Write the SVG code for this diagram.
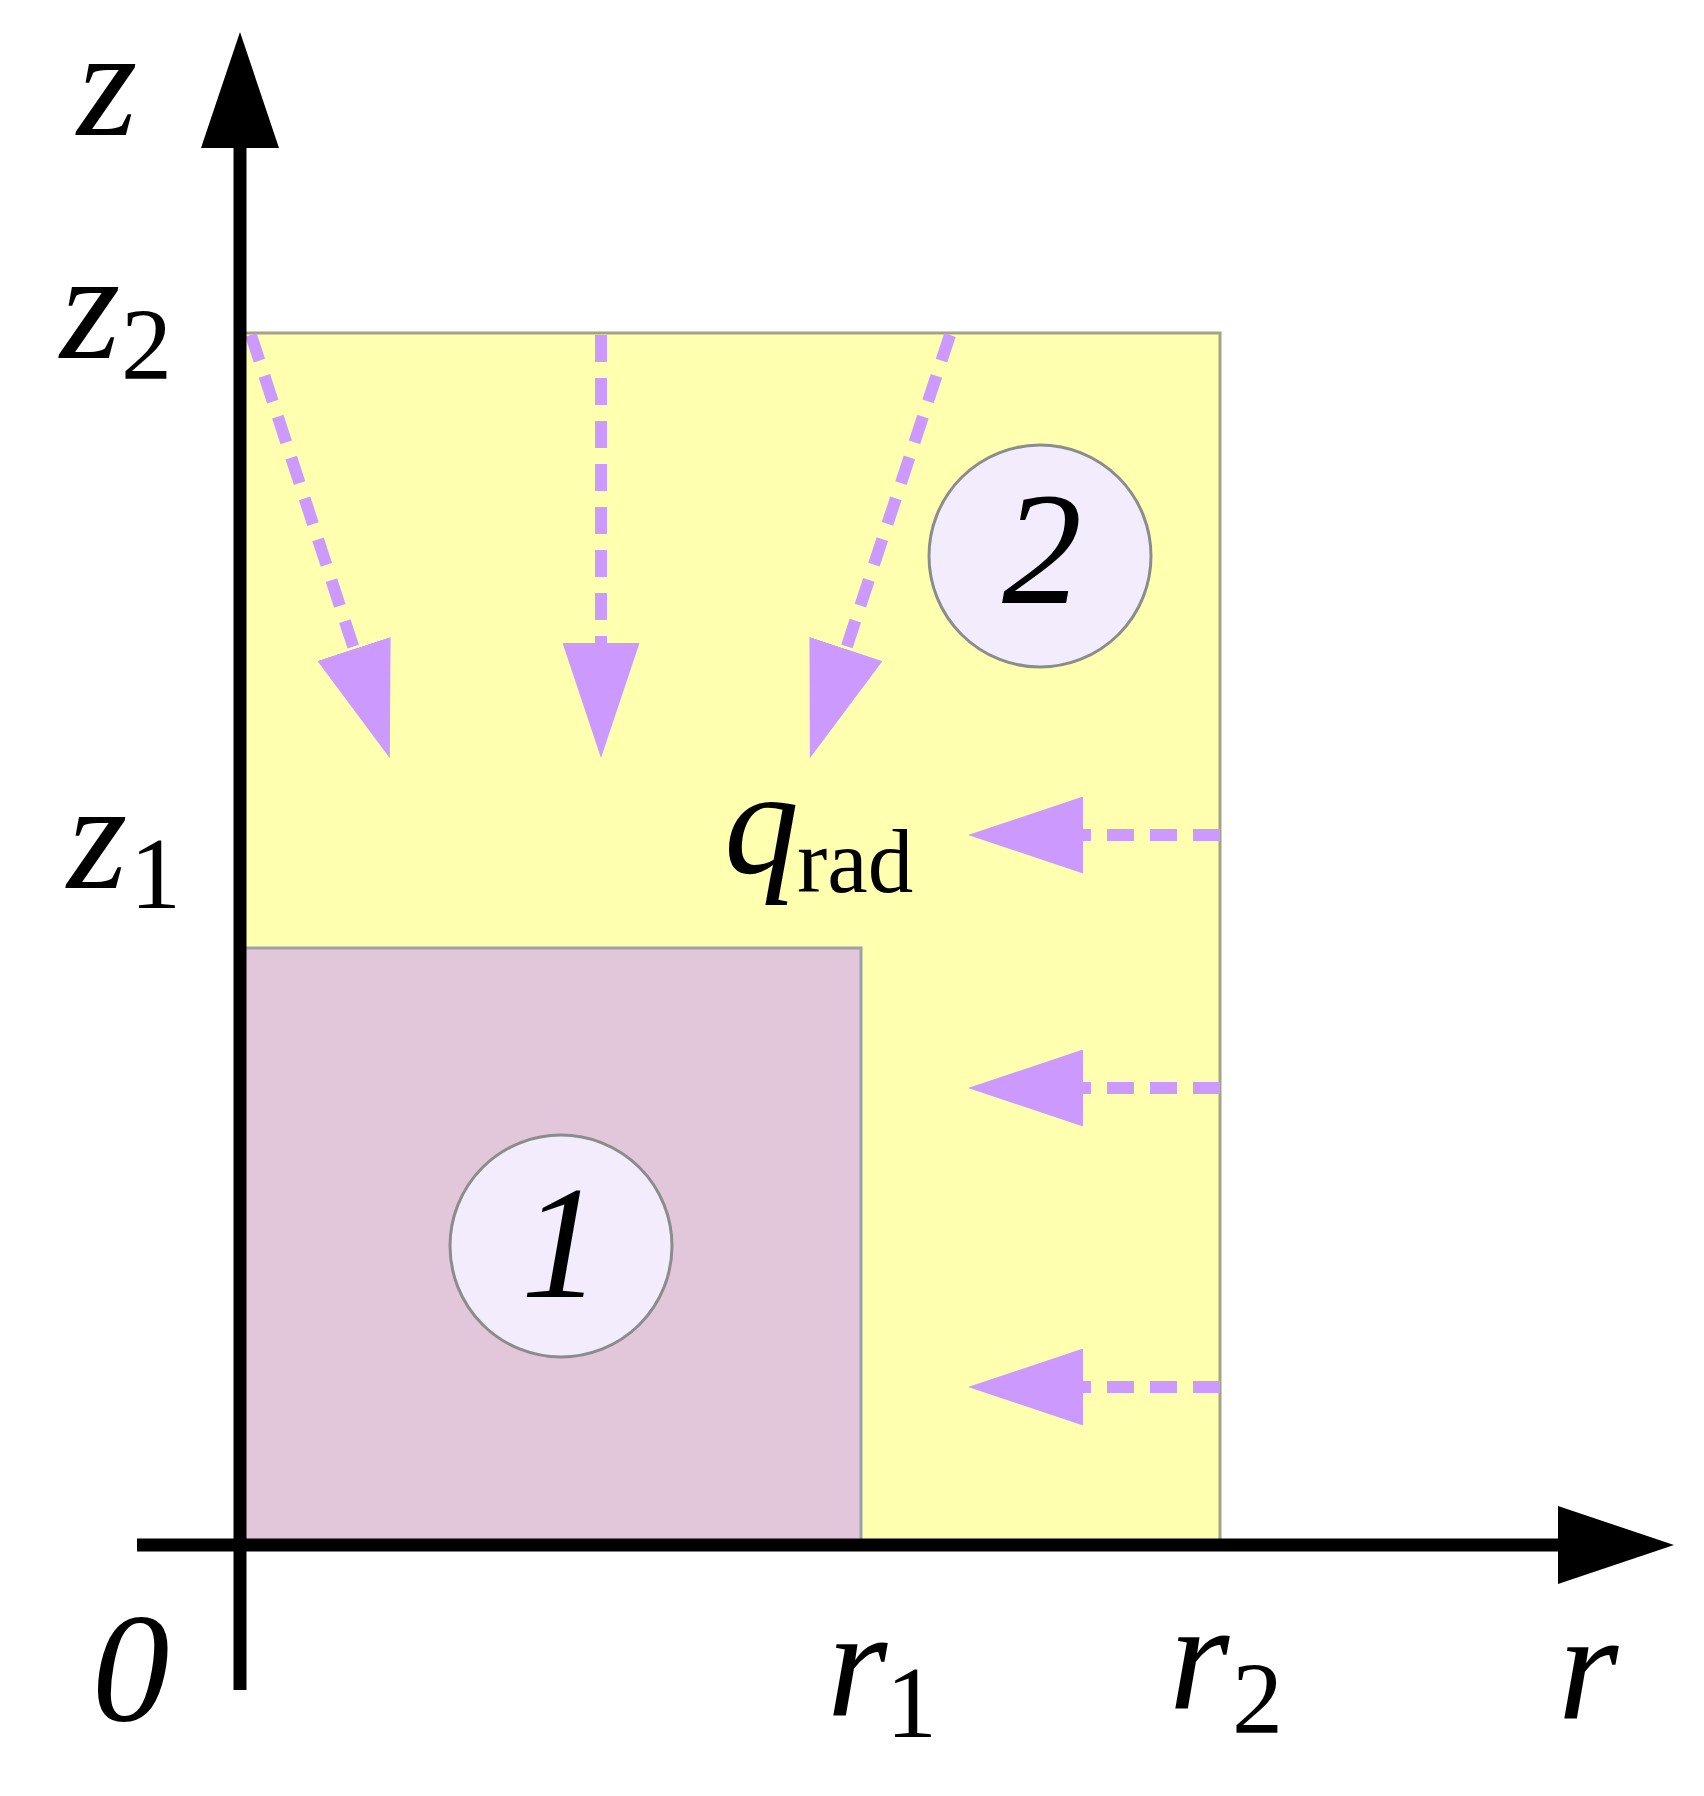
<svg xmlns="http://www.w3.org/2000/svg" width="1704" height="1796" viewBox="0 0 1704 1796">
<style>
  .lbl { font-family: "Liberation Serif", "Times New Roman", serif; fill: #000; }
  .it { font-style: italic; font-size: 155px; }
  .sub { font-size: 102px; }
  .num { font-style: italic; font-size: 160px; text-anchor: middle; }
  .axis { stroke: #000; stroke-width: 13; fill: none; }
  .flux { stroke: #CC99FF; stroke-width: 12; fill: none; stroke-dasharray: 27 16; }
  .badge { fill: #F3ECFD; stroke: #8C8C8C; stroke-width: 3; }
</style>
<defs>
  <marker id="ah-black" markerUnits="userSpaceOnUse" markerWidth="116" markerHeight="78" refX="0" refY="39" orient="auto">
    <path d="M0,0 L116,39 L0,78 Z" fill="#000"/>
  </marker>
  <marker id="ah-flux" markerUnits="userSpaceOnUse" markerWidth="115" markerHeight="77" refX="0" refY="38.5" orient="auto">
    <path d="M0,0 L115,38.5 L0,77 Z" fill="#CC99FF"/>
  </marker>
</defs>
<rect width="1704" height="1796" fill="#fff"/>

<g id="region2">
  <rect x="240" y="333" width="980" height="1212" fill="#FFFFB0" stroke="#A3A385" stroke-width="3"/>
</g>
<g id="region1">
  <rect x="240" y="948" width="621" height="597" fill="#E2C7DA" stroke="#9CA2AA" stroke-width="3"/>
</g>

<g id="connectors">
  <line class="flux" x1="251" y1="335" x2="354" y2="649" marker-end="url(#ah-flux)"/>
  <line class="flux" x1="601" y1="335" x2="601" y2="643" marker-end="url(#ah-flux)"/>
  <line class="flux" x1="950" y1="335" x2="846" y2="649" marker-end="url(#ah-flux)"/>
  <line class="flux" x1="1220" y1="835" x2="1083" y2="835" marker-end="url(#ah-flux)"/>
  <line class="flux" x1="1220" y1="1088" x2="1083" y2="1088" marker-end="url(#ah-flux)"/>
  <line class="flux" x1="1220" y1="1387" x2="1083" y2="1387" marker-end="url(#ah-flux)"/>
</g>

<g id="axes">
  <line class="axis" x1="240" y1="1690" x2="240" y2="148" marker-end="url(#ah-black)"/>
  <line class="axis" x1="137" y1="1545" x2="1558" y2="1545" marker-end="url(#ah-black)"/>
</g>

<g id="badge2">
  <circle class="badge" cx="1040" cy="556" r="111"/>
  <text class="lbl num" x="1042" y="603">2</text>
</g>
<g id="badge1">
  <circle class="badge" cx="561" cy="1246" r="111"/>
  <text class="lbl num" x="561" y="1297">1</text>
</g>

<g id="labels">
  <text class="lbl it" x="77" y="135">z</text>
  <text class="lbl" x="60" y="358"><tspan class="it">z</tspan></text>
  <text class="lbl sub" x="121" y="379">2</text>
  <text class="lbl" x="67" y="888"><tspan class="it">z</tspan></text>
  <text class="lbl sub" x="130" y="908">1</text>
  <text class="lbl it" x="92" y="1720">0</text>
  <text class="lbl it" x="827" y="1715">r</text>
  <text class="lbl sub" x="886" y="1737">1</text>
  <text class="lbl it" x="1169" y="1708">r</text>
  <text class="lbl sub" x="1232" y="1733">2</text>
  <text class="lbl it" x="1558" y="1718">r</text>
  <text class="lbl" x="724" y="873"><tspan class="it" style="font-size:150px">q</tspan></text>
  <text class="lbl" x="797" y="892" style="font-size:91px">rad</text>
</g>
</svg>
